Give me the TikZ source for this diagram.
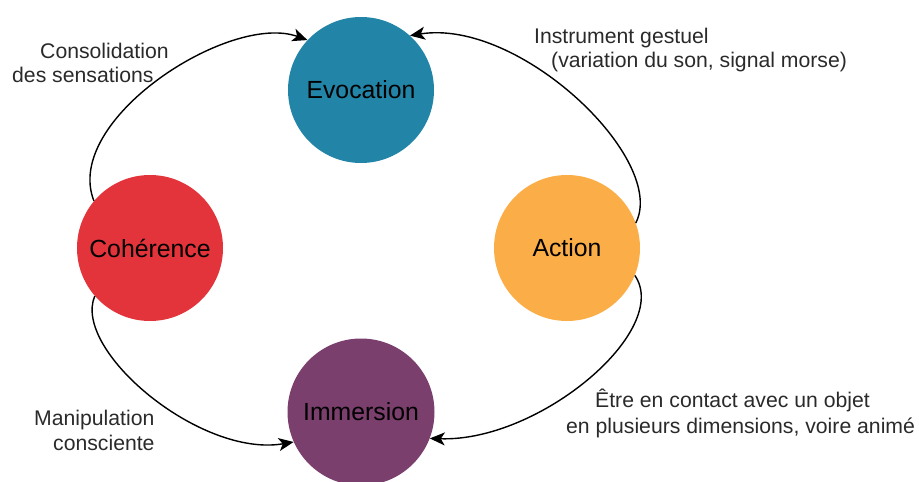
\documentclass[tikz,border=0pt]{standalone}
\usepackage{fontspec}
\setmainfont{Liberation Sans}
\usetikzlibrary{arrows.meta}
\definecolor{evoc}{HTML}{2285A7}
\definecolor{actc}{HTML}{FBAE47}
\definecolor{cohc}{HTML}{E3343B}
\definecolor{immc}{HTML}{7B3F6E}
\definecolor{txtc}{HTML}{2A2A2A}
\tikzset{
  stage/.style={circle, minimum size=146pt, inner sep=0pt, draw=none,
    font=\fontsize{24.8}{28}\selectfont, text=black},
  lbl/.style={anchor=base west, inner sep=0pt, text=txtc,
    font=\fontsize{21.2}{24}\selectfont},
  link/.style={line width=1.4pt, black, -{Stealth[length=15pt, width=13pt, inset=4pt]}}
}
\begin{document}
\begin{tikzpicture}[x=1pt, y=-1pt]
\useasboundingbox (0,0) rectangle (919,482);
\node[stage, fill=evoc] (evo) at (361,90) {Evocation};
\node[stage, fill=actc] (act) at (567,248) {Action};
\node[stage, fill=cohc] (coh) at (150,248) {Cohérence};
\node[stage, fill=immc, minimum size=147pt] (imm) at (361,412) {Immersion};

\draw[link] (coh.140) .. controls (62,120) and (230,12) .. (evo.137);
\draw[link] (act.20) .. controls (668,160) and (520,18) .. (evo.48);
\draw[link] (act.-22) .. controls (672,330) and (540,442) .. (imm.-21);
\draw[link] (coh.-139) .. controls (72,350) and (200,458) .. (imm.204);

\node[lbl] (l1a) at (40,58) {Consolidation};
\node[lbl] (l1b) at (12,82) {des sensations};
\node[lbl] (l2a) at (534,43) {Instrument gestuel};
\node[lbl] (l2b) at (551,67) {(variation du son, signal morse)};
\node[lbl] (l3a) at (595,407) {Être en contact avec un objet};
\node[lbl] (l3b) at (566,433) {en plusieurs dimensions, voire animé};
\node[lbl] (l4a) at (34,425) {Manipulation};
\node[lbl] (l4b) at (53,450) {consciente};
\end{tikzpicture}
\end{document}
